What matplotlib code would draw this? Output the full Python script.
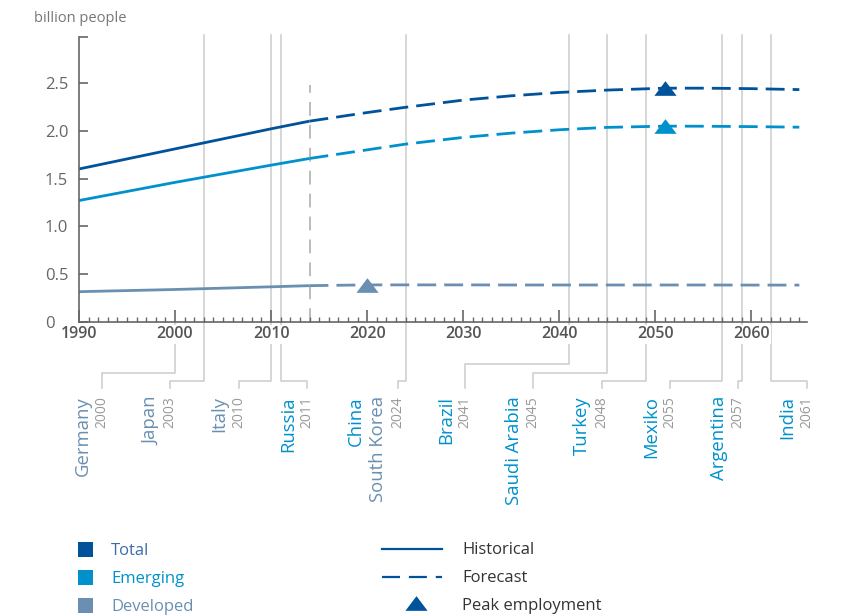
import numpy as np
import matplotlib
matplotlib.use('Agg')
import matplotlib.pyplot as plt
from matplotlib.patches import Rectangle

plt.rcParams['font.family'] = ['Open Sans', 'DejaVu Sans']

# ---- data (billion people) ----
hist_years = [1990, 2000, 2010, 2014]
total_hist = [1.60, 1.81, 2.02, 2.10]
emerging_hist = [1.27, 1.46, 1.64, 1.71]
developed_hist = [0.317, 0.34, 0.368, 0.38]

fc_years = [2014, 2020, 2024, 2030, 2035, 2040, 2045, 2051, 2055, 2060, 2065]
total_fc = [2.10, 2.19, 2.245, 2.32, 2.365, 2.40, 2.425, 2.445, 2.445, 2.44, 2.43]
emerging_fc = [1.71, 1.80, 1.86, 1.93, 1.975, 2.01, 2.035, 2.048, 2.047, 2.043, 2.037]
developed_fc = [0.38, 0.388, 0.388, 0.388, 0.387, 0.387, 0.387, 0.387, 0.387, 0.386, 0.386]

peak_total = (2051, 2.445)
peak_emerging = (2051, 2.048)
peak_developed = (2020, 0.39)

# country peak-employment annotations
label_names = [['Germany'], ['Japan'], ['Italy'], ['Russia'], ['China', 'South Korea'],
               ['Brazil'], ['Saudi Arabia'], ['Turkey'], ['Mexiko'], ['Argentina'], ['India']]
label_groups = [['dev'], ['dev'], ['dev'], ['em'], ['em', 'dev'],
                ['em'], ['em'], ['em'], ['em'], ['em'], ['em']]
label_years = ['2000', '2003', '2010', '2011', '2024', '2041', '2045', '2048', '2055', '2057', '2061']
guide_years = [2000, 2003, 2010, 2011, 2024, 2041, 2045, 2049, 2057, 2059, 2062]

c_total = '#00529b'
c_em = '#0091cd'
c_dev = '#6a8fb1'
c_grid = '#cccccc'
group_color = {'em': c_em, 'dev': c_dev}

# ---- layout (pixels) ----
W, H = 856, 616
slot_x = [102, 170, 239, 307, 398, 465, 533, 602, 670, 738, 807]
elbow_y = [373, 381, 381, 381, 381, 364, 373, 381, 381, 381, 381]
name_off = [[19], [19], [20], [19], [42, 20], [19], [19], [20], [19], [19], [20]]

fig = plt.figure(figsize=(W / 100, H / 100), dpi=100)
ax = fig.add_axes([79 / W, 1 - 322 / H, 728 / W, 285 / H])
ov = fig.add_axes([0, 0, 1, 1])
ov.set_xlim(0, W)
ov.set_ylim(H, 0)
ov.axis('off')
ov.set_zorder(-1)

ax.set_xlim(1990, 2065.8)
ax.set_ylim(0, 2.98)

dash = (6.8, 2.9)
ax.plot(hist_years, total_hist, color=c_total, lw=2, solid_capstyle='butt')
ax.plot(hist_years, emerging_hist, color=c_em, lw=2, solid_capstyle='butt')
ax.plot(hist_years, developed_hist, color=c_dev, lw=2, solid_capstyle='butt')
for ys, c in [(total_fc, c_total), (emerging_fc, c_em), (developed_fc, c_dev)]:
    ln, = ax.plot(fc_years, ys, color=c, lw=2, dash_capstyle='butt')
    ln.set_dashes(dash)

tri = [(-1, -0.66), (1, -0.66), (0, 0.66), (-1, -0.66)]
for (px_, py_), c in [(peak_total, c_total), (peak_emerging, c_em), (peak_developed, c_dev)]:
    ax.plot([px_], [py_], marker=tri, ms=16, color=c, mec='none', zorder=4)

# guide lines inside plot
for yr in guide_years:
    if yr == 2000:
        continue
    ax.axvline(yr, ymin=0, ymax=1.007, color=c_grid, lw=1.1, zorder=1, clip_on=False)
ax.vlines(2014, 0, 2.48, color='#aaaaaa', lw=1.1, linestyles=(0, (9, 6)), zorder=1)

# axes styling
for s in ['top', 'right']:
    ax.spines[s].set_visible(False)
for s in ['left', 'bottom']:
    ax.spines[s].set_color('#666666')
    ax.spines[s].set_linewidth(1.2)
ax.set_xticks(np.arange(1990, 2061, 10))
ax.set_xticks(np.arange(1990, 2066, 1), minor=True)
ax.set_yticks([0, 0.5, 1.0, 1.5, 2.0, 2.5, 2.98])
ax.set_yticklabels(['0', '0.5', '1.0', '1.5', '2.0', '2.5', ''])
ax.tick_params(axis='x', which='major', direction='in', length=9, width=1.2, color='#666666',
               pad=3, labelsize=11.5, labelcolor='#555555')
ax.tick_params(axis='x', which='minor', direction='in', length=3.5, width=1, color='#666666')
ax.tick_params(axis='y', direction='in', length=6.5, width=1.2, color='#666666',
               pad=24.5, labelsize=12, labelcolor='#666666')
for lab in ax.get_yticklabels():
    lab.set_horizontalalignment('left')
for lab in ax.get_xticklabels():
    lab.set_fontweight('semibold')
    lab.set_bbox(dict(facecolor='white', edgecolor='none', pad=1))

# connectors and country labels below axis
for i, yr in enumerate(guide_years):
    gx = ax.transData.transform((yr, 0))[0]
    sx = slot_x[i]
    ov.plot([gx, gx, sx, sx], [322, elbow_y[i], elbow_y[i], 388], color=c_grid, lw=1.1)
    ov.text(sx, 396, label_years[i], rotation=90, ha='center', va='top',
            fontsize=10, color='#999999')
    for name, grp, off in zip(label_names[i], label_groups[i], name_off[i]):
        ov.text(sx - off, 396, name, rotation=90, ha='center', va='top',
                fontsize=13.3, color=group_color[grp])

ov.text(34, 18, 'billion people', ha='left', va='center', fontsize=10.5, color='#777777')

# legend
leg_series = ['Total', 'Emerging', 'Developed']
leg_colors = [c_total, c_em, c_dev]
leg_text_colors = ['#3a6ea8', c_em, c_dev]
for j, (name, c, tc) in enumerate(zip(leg_series, leg_colors, leg_text_colors)):
    yc = 549 + 28 * j
    ov.add_patch(Rectangle((78, yc - 7.5), 15, 15, color=c, lw=0))
    ov.text(111, yc + 2, name, ha='left', va='center', fontsize=12, color=tc)

ov.plot([382, 442], [549, 549], color=c_total, lw=1.6)
dl, = ov.plot([382, 442], [577, 577], color=c_total, lw=1.6, dash_capstyle='butt')
dl.set_dashes((8.1, 4))
ov.plot([416], [603], marker=tri, ms=16, color=c_total, mec='none')
for j, name in enumerate(['Historical', 'Forecast', 'Peak employment']):
    ov.text(462, 550 + 28 * j, name, ha='left', va='center', fontsize=12, color='#333333')

fig.savefig('out.png', dpi=100)
